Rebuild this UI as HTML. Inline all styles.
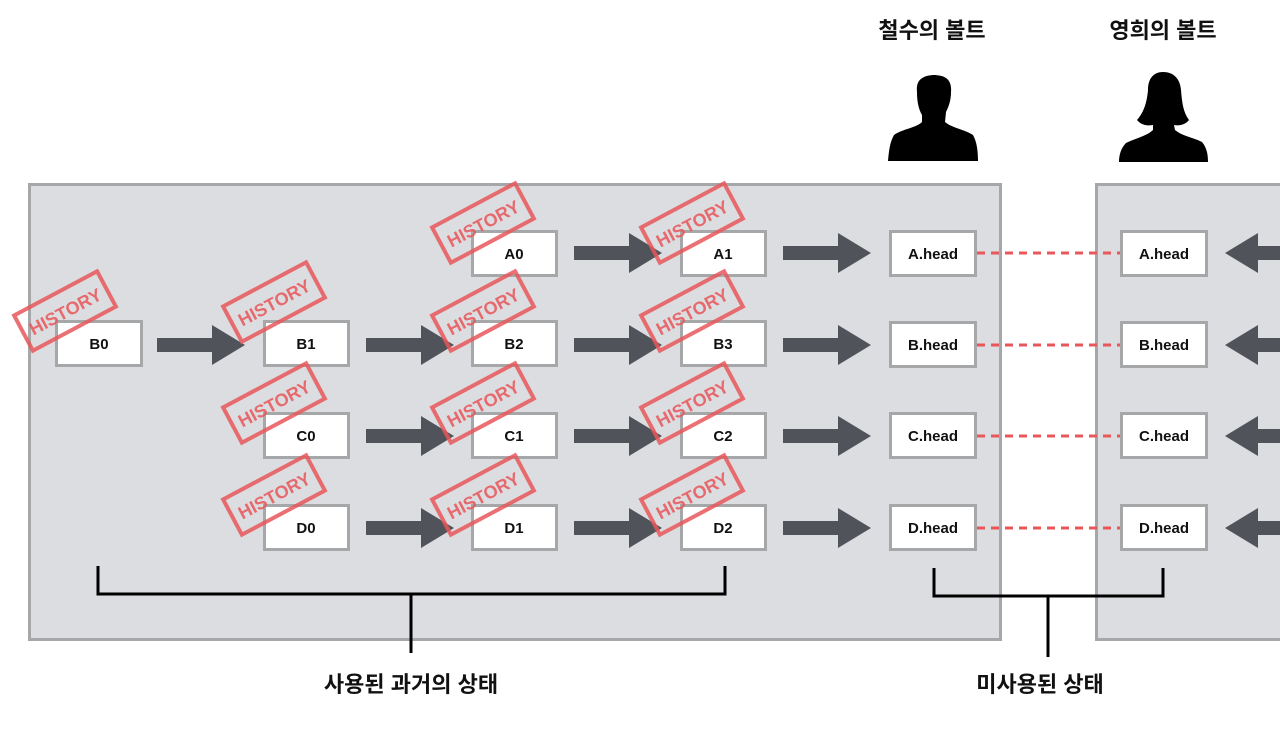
<!DOCTYPE html>
<html><head><meta charset="utf-8"><style>
html,body{margin:0;padding:0;background:#fff;}
svg{display:block;}
text{font-family:"Liberation Sans","Noto Sans CJK KR",sans-serif;}
</style></head><body>
<svg width="1280" height="730" viewBox="0 0 1280 730" xmlns="http://www.w3.org/2000/svg">
<defs>
  <g id="ar"><path d="M0,-7 H55 V-20 L88,0 L55,20 V7 H0 Z" fill="#50545a"/></g>
  <g id="st">
    <g transform="rotate(-28)">
      <rect x="-47" y="-20" width="94" height="40" fill="none" stroke="#e8575a" stroke-width="4" opacity="0.85"/>
      <text x="0" y="7" text-anchor="middle" font-size="18" font-weight="bold" fill="#e8575a" opacity="0.85">HISTORY</text>
    </g>
  </g>
</defs>
<!-- panels -->
<rect x="29.5" y="184.5" width="971" height="455" fill="#dcdde0" stroke="#a6a7a8" stroke-width="3"/>
<rect x="1096.5" y="184.5" width="200" height="455" fill="#dcdde0" stroke="#a6a7a8" stroke-width="3"/>

<!-- titles -->
<text x="932" y="38" text-anchor="middle" font-size="22" font-weight="bold" fill="#111">철수의 볼트</text>
<text x="1163" y="38" text-anchor="middle" font-size="22" font-weight="bold" fill="#111">영희의 볼트</text>

<!-- man -->
<path d="M917,92 C916,82 920,76 933,75 C946,75 952,80 951,92 C951,100 949,106 946,112 L945,122 C952,128 966,130 973,135 C977,142 978,152 978,161 L888,161 C889,150 890,142 894,135 C902,129 916,128 922,122 L922,115 C918,108 917,100 917,92 Z" fill="#000"/>
<!-- woman -->
<path d="M1148,90 C1148,78 1154,72 1163,72 C1173,72 1180,78 1181,90 C1182,102 1183,112 1189,120 C1185,125 1179,126 1174,125 L1175,130 C1182,136 1192,137 1202,142 C1207,148 1208,155 1208,162 L1119,162 C1119,155 1121,148 1126,143 C1136,138 1147,136 1153,130 L1153,125 C1147,126 1141,125 1137,120 C1144,112 1147,102 1148,90 Z" fill="#000"/>

<!-- arrows -->
<use href="#ar" x="157" y="345"/>
<use href="#ar" x="366" y="345"/>
<use href="#ar" x="366" y="436"/>
<use href="#ar" x="366" y="528"/>
<use href="#ar" x="574" y="253"/>
<use href="#ar" x="574" y="345"/>
<use href="#ar" x="574" y="436"/>
<use href="#ar" x="574" y="528"/>
<use href="#ar" x="783" y="253"/>
<use href="#ar" x="783" y="345"/>
<use href="#ar" x="783" y="436"/>
<use href="#ar" x="783" y="528"/>
<g fill="#50545a">
  <path d="M1225,253 L1258,233 V246 H1282 V260 H1258 V273 Z"/>
  <path d="M1225,345 L1258,325 V338 H1282 V352 H1258 V365 Z"/>
  <path d="M1225,436 L1258,416 V429 H1282 V443 H1258 V456 Z"/>
  <path d="M1225,528 L1258,508 V521 H1282 V535 H1258 V548 Z"/>
</g>

<!-- dashed lines -->
<g stroke="#e8575a" stroke-width="3" stroke-dasharray="8 6">
  <line x1="977" y1="253" x2="1120" y2="253"/>
  <line x1="977" y1="345" x2="1120" y2="345"/>
  <line x1="977" y1="436" x2="1120" y2="436"/>
  <line x1="977" y1="528" x2="1120" y2="528"/>
</g>

<!-- boxes -->
<g fill="#fff" stroke="#a6a7a8" stroke-width="3">
  <rect x="472.5" y="231.5" width="84" height="44"/>
  <rect x="681.5" y="231.5" width="84" height="44"/>
  <rect x="890.5" y="231.5" width="85" height="44"/>
  <rect x="1121.5" y="231.5" width="85" height="44"/>

  <rect x="56.5" y="321.5" width="85" height="44"/>
  <rect x="264.5" y="321.5" width="84" height="44"/>
  <rect x="472.5" y="321.5" width="84" height="44"/>
  <rect x="681.5" y="321.5" width="84" height="44"/>
  <rect x="890.5" y="322.5" width="85" height="44"/>
  <rect x="1121.5" y="322.5" width="85" height="44"/>

  <rect x="264.5" y="413.5" width="84" height="44"/>
  <rect x="472.5" y="413.5" width="84" height="44"/>
  <rect x="681.5" y="413.5" width="84" height="44"/>
  <rect x="890.5" y="413.5" width="85" height="44"/>
  <rect x="1121.5" y="413.5" width="85" height="44"/>

  <rect x="264.5" y="505.5" width="84" height="44"/>
  <rect x="472.5" y="505.5" width="84" height="44"/>
  <rect x="681.5" y="505.5" width="84" height="44"/>
  <rect x="890.5" y="505.5" width="85" height="44"/>
  <rect x="1121.5" y="505.5" width="85" height="44"/>
</g>
<g font-size="15" font-weight="bold" fill="#111" text-anchor="middle">
  <text x="514" y="259">A0</text>
  <text x="723" y="259">A1</text>
  <text x="933" y="259">A.head</text>
  <text x="1164" y="259">A.head</text>
  <text x="99" y="349">B0</text>
  <text x="306" y="349">B1</text>
  <text x="514" y="349">B2</text>
  <text x="723" y="349">B3</text>
  <text x="933" y="350">B.head</text>
  <text x="1164" y="350">B.head</text>
  <text x="306" y="441">C0</text>
  <text x="514" y="441">C1</text>
  <text x="723" y="441">C2</text>
  <text x="933" y="441">C.head</text>
  <text x="1164" y="441">C.head</text>
  <text x="306" y="533">D0</text>
  <text x="514" y="533">D1</text>
  <text x="723" y="533">D2</text>
  <text x="933" y="533">D.head</text>
  <text x="1164" y="533">D.head</text>
</g>

<!-- stamps -->
<use href="#st" x="65" y="311"/>
<use href="#st" x="274" y="302"/>
<use href="#st" x="483" y="223"/>
<use href="#st" x="483" y="311"/>
<use href="#st" x="692" y="223"/>
<use href="#st" x="692" y="311"/>
<use href="#st" x="274" y="403"/>
<use href="#st" x="483" y="403"/>
<use href="#st" x="692" y="403"/>
<use href="#st" x="274" y="495"/>
<use href="#st" x="483" y="495"/>
<use href="#st" x="692" y="495"/>

<!-- brackets -->
<g fill="none" stroke="#000" stroke-width="3">
  <path d="M98,566 V594 H725 V566"/>
  <line x1="411" y1="594" x2="411" y2="653"/>
  <path d="M934,568 V596 H1163 V568"/>
  <line x1="1048" y1="596" x2="1048" y2="657"/>
</g>
<text x="411" y="692" text-anchor="middle" font-size="22" font-weight="bold" fill="#111">사용된 과거의 상태</text>
<text x="1040" y="692" text-anchor="middle" font-size="22" font-weight="bold" fill="#111">미사용된 상태</text>
</svg>
</body></html>
